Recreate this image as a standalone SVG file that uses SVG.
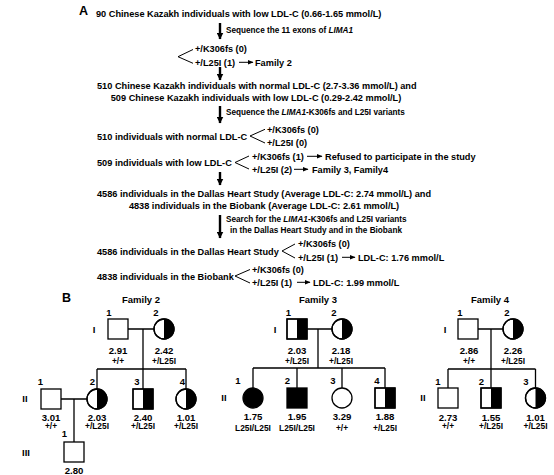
<svg xmlns="http://www.w3.org/2000/svg" width="554" height="475" viewBox="0 0 554 475">
<defs>
<marker id="ah" markerWidth="6" markerHeight="6" refX="5" refY="3" orient="auto" markerUnits="userSpaceOnUse"><path d="M0,0.8 L5.5,3 L0,5.2 Z" fill="#000"/></marker>
<marker id="dh" markerWidth="8" markerHeight="8" refX="3.5" refY="6.5" orient="0" markerUnits="userSpaceOnUse"><path d="M0,0 L7,0 L3.5,7 Z" fill="#000"/></marker>
</defs>
<style>
text{font-family:"Liberation Sans",Arial,sans-serif;font-weight:bold;fill:#000}
.m{font-size:9.2px}
.s{font-size:8.2px}
.c{text-anchor:middle}
.it{font-style:italic}
.big{font-size:12.5px}
.fam{font-size:9.5px;text-anchor:middle}
.num{font-size:9.5px;text-anchor:middle}
.val{font-size:9.6px;text-anchor:middle}
.gt{font-size:8.4px;text-anchor:middle}
.gen{font-size:9.5px;text-anchor:middle}
.dn{stroke:#000;stroke-width:2.4;fill:none}
.ra{stroke:#000;stroke-width:1;fill:none;marker-end:url(#ah)}
.br{stroke:#000;stroke-width:1;fill:none}
.pl{stroke:#000;stroke-width:1.3;fill:none}
.sym{stroke:#000;stroke-width:1.3;fill:#fff}
.blk{fill:#000}
</style>

<g id="panelA">
<text class="big" x="79" y="14.5">A</text>
<text class="m" x="96" y="16.5">90 Chinese Kazakh individuals with low LDL-C (0.66-1.65 mmol/L)</text>
<text class="s" x="226" y="33.3">Sequence the 11 exons of <tspan class="it">LIMA1</tspan></text>
<text class="m" x="195" y="51.5">+/K306fs (0)</text>
<text class="m" x="195" y="65.5">+/L25I (1)</text>
<text class="m" x="255" y="65.5">Family 2</text>
<text class="m" x="97" y="88.5">510 Chinese Kazakh individuals with normal LDL-C (2.7-3.36 mmol/L) and</text>
<text class="m c" x="256" y="100.5">509 Chinese Kazakh individuals with low LDL-C (0.29-2.42 mmol/L)</text>
<text class="s" x="226" y="115.3">Sequence the <tspan class="it">LIMA1</tspan>-K306fs and L25I variants</text>
<text class="m" x="97" y="139.5">510 individuals with normal LDL-C</text>
<text class="m" x="267" y="132.5">+/K306fs (0)</text>
<text class="m" x="267" y="145.5">+/L25I (0)</text>
<text class="m" x="97" y="165.5">509 individuals with low LDL-C</text>
<text class="m" x="252" y="159.5">+/K306fs (1)</text>
<text class="m" x="325" y="159.5">Refused to participate in the study</text>
<text class="m" x="252" y="172.5">+/L25I (2)</text>
<text class="m" x="312" y="172.5">Family 3, Family4</text>
<text class="m" x="97" y="197.3">4586 individuals in the Dallas Heart Study (Average LDL-C: 2.74 mmol/L) and</text>
<text class="m c" x="264" y="208.8">4838 individuals in the Biobank (Average LDL-C: 2.61 mmol/L)</text>
<text class="s" x="226" y="222.3">Search for the <tspan class="it">LIMA1</tspan>-K306fs and L25I variants</text>
<text class="s c" x="316" y="233.3">in the Dallas Heart Study and in the Biobank</text>
<text class="m" x="97" y="254.5">4586 individuals in the Dallas Heart Study</text>
<text class="m" x="298" y="246.5">+/K306fs (0)</text>
<text class="m" x="298" y="260.5">+/L25I (1)</text>
<text class="m" x="358" y="260.5">LDL-C: 1.76 mmol/L</text>
<text class="m" x="97" y="279.5">4838 individuals in the Biobank</text>
<text class="m" x="252" y="273.3">+/K306fs (0)</text>
<text class="m" x="252" y="285.5">+/L25I (1)</text>
<text class="m" x="313" y="285.5">LDL-C: 1.99 mmol/L</text>
</g>

<g id="connectorsA">
<path class="dn" d="M220,23 V39" marker-end="url(#dh)"/>
<path class="dn" d="M220,67 V80" marker-end="url(#dh)"/>
<path class="dn" d="M220,106 V123" marker-end="url(#dh)"/>
<path class="dn" d="M220,172 V185" marker-end="url(#dh)"/>
<path class="dn" d="M220,215 V238" marker-end="url(#dh)"/>
<polyline class="br" points="193,49.5 178,56.7 193,63.3"/>
<polyline class="br" points="265,129.3 250,136 265,143"/>
<polyline class="br" points="249,156 235,162.5 249,169"/>
<polyline class="br" points="295,244 282,251 295,258"/>
<polyline class="br" points="250,269.5 235,276 250,283"/>
<line class="ra" x1="239" y1="62.3" x2="253" y2="62.3"/>
<line class="ra" x1="307" y1="156.3" x2="322" y2="156.3"/>
<line class="ra" x1="294" y1="169.3" x2="308" y2="169.3"/>
<line class="ra" x1="342" y1="257.3" x2="355" y2="257.3"/>
<line class="ra" x1="297" y1="282.3" x2="310" y2="282.3"/>
</g>

<text class="big" x="62" y="301.5">B</text>

<g id="pedigreeLines">
<path class="pl" d="M128,329 H154 M143,329 V369 M97,369 H186 M97,369 V389 M143,369 V389 M186,369 V389 M61,399 H87 M74,399 V442"/>
<path class="pl" d="M307,329 H332 M318,329 V368 M253,368 H385 M253,368 V388 M297,368 V388 M342,368 V388 M385,368 V388"/>
<path class="pl" d="M478,329 H503 M491,329 V369 M448,369 H535.5 M448,369 V388 M491,369 V388 M535.5,369 V388"/>
</g>

<g id="family2">
<text class="fam" x="141" y="302.5">Family 2</text>
<text class="gen" x="94" y="332.5">I</text>
<text class="gen" x="25" y="401.5">II</text>
<text class="gen" x="26" y="455.5">III</text>
<g id="f2-I1"><rect class="sym" x="108" y="319" width="20" height="20"/><text class="num" x="109" y="315.5">1</text><text class="val" x="118" y="353.5">2.91</text><text class="gt" x="118" y="364">+/+</text></g>
<g id="f2-I2"><circle class="sym" cx="164" cy="329" r="10"/><path class="blk" d="M164,319 A10,10 0 0 1 164,339 Z"/><circle cx="164" cy="329" r="10" fill="none" stroke="#000" stroke-width="1.3"/><text class="num" x="156" y="315.5">2</text><text class="val" x="164" y="353.5">2.42</text><text class="gt" x="164" y="364">+/L25I</text></g>
<g id="f2-II1"><rect class="sym" x="41" y="389" width="20" height="20"/><text class="num" x="40.5" y="384.5">1</text><text class="val" x="51" y="420.5">3.01</text><text class="gt" x="51" y="429">+/+</text></g>
<g id="f2-II2"><circle class="sym" cx="97" cy="399" r="10"/><path class="blk" d="M97,389 A10,10 0 0 1 97,409 Z"/><circle cx="97" cy="399" r="10" fill="none" stroke="#000" stroke-width="1.3"/><text class="num" x="92.5" y="384.5">2</text><text class="val" x="97" y="420.5">2.03</text><text class="gt" x="97" y="429">+/L25I</text></g>
<g id="f2-II3"><rect class="sym" x="133" y="389" width="20" height="20"/><rect class="blk" x="143" y="389" width="10" height="20"/><rect x="133" y="389" width="20" height="20" fill="none" stroke="#000" stroke-width="1.3"/><text class="num" x="137" y="384.5">3</text><text class="val" x="143" y="420.5">2.40</text><text class="gt" x="143" y="429">+/L25I</text></g>
<g id="f2-II4"><circle class="sym" cx="186" cy="399" r="10"/><path class="blk" d="M186,389 A10,10 0 0 1 186,409 Z"/><circle cx="186" cy="399" r="10" fill="none" stroke="#000" stroke-width="1.3"/><text class="num" x="182.5" y="384.5">4</text><text class="val" x="186" y="420.5">1.01</text><text class="gt" x="186" y="429">+/L25I</text></g>
<g id="f2-III1"><rect class="sym" x="64" y="442" width="20" height="20"/><text class="num" x="64.5" y="436.5">1</text><text class="val" x="74" y="473.5">2.80</text></g>
</g>

<g id="family3">
<text class="fam" x="318" y="302.5">Family 3</text>
<text class="gen" x="275" y="332.5">I</text>
<text class="gen" x="224" y="401">II</text>
<g id="f3-I1"><rect class="sym" x="287" y="319" width="20" height="20"/><rect class="blk" x="297" y="319" width="10" height="20"/><rect x="287" y="319" width="20" height="20" fill="none" stroke="#000" stroke-width="1.3"/><text class="num" x="288.5" y="315.5">1</text><text class="val" x="297" y="353.5">2.03</text><text class="gt" x="297" y="364">+/L25I</text></g>
<g id="f3-I2"><circle class="sym" cx="342" cy="329" r="10"/><path class="blk" d="M342,319 A10,10 0 0 1 342,339 Z"/><circle cx="342" cy="329" r="10" fill="none" stroke="#000" stroke-width="1.3"/><text class="num" x="334" y="315.5">2</text><text class="val" x="341" y="353.5">2.18</text><text class="gt" x="341" y="364">+/L25I</text></g>
<g id="f3-II1"><circle cx="253" cy="398" r="10" fill="#000" stroke="#000" stroke-width="1.3"/><text class="num" x="238" y="383.5">1</text><text class="val" x="253" y="420">1.75</text><text class="gt" x="253" y="430.5">L25I/L25I</text></g>
<g id="f3-II2"><rect x="287" y="388" width="20" height="20" fill="#000" stroke="#000" stroke-width="1.3"/><text class="num" x="287.5" y="383.5">2</text><text class="val" x="297" y="420">1.95</text><text class="gt" x="297" y="430.5">L25I/L25I</text></g>
<g id="f3-II3"><circle class="sym" cx="342" cy="398" r="10"/><text class="num" x="333" y="383.5">3</text><text class="val" x="342" y="420">3.29</text><text class="gt" x="342" y="430.5">+/+</text></g>
<g id="f3-II4"><rect class="sym" x="375" y="388" width="20" height="20"/><rect class="blk" x="385" y="388" width="10" height="20"/><rect x="375" y="388" width="20" height="20" fill="none" stroke="#000" stroke-width="1.3"/><text class="num" x="377" y="383.5">4</text><text class="val" x="385" y="420">1.88</text><text class="gt" x="385" y="430.5">+/L25I</text></g>
</g>

<g id="family4">
<text class="fam" x="490" y="302.5">Family 4</text>
<text class="gen" x="445" y="332.5">I</text>
<text class="gen" x="423" y="401">II</text>
<g id="f4-I1"><rect class="sym" x="458" y="319" width="20" height="20"/><text class="num" x="460" y="315.5">1</text><text class="val" x="469" y="353.5">2.86</text><text class="gt" x="469" y="364">+/+</text></g>
<g id="f4-I2"><circle class="sym" cx="513" cy="329" r="10"/><path class="blk" d="M513,319 A10,10 0 0 1 513,339 Z"/><circle cx="513" cy="329" r="10" fill="none" stroke="#000" stroke-width="1.3"/><text class="num" x="507" y="315.5">2</text><text class="val" x="513" y="353.5">2.26</text><text class="gt" x="513" y="364">+/L25I</text></g>
<g id="f4-II1"><rect class="sym" x="438" y="388" width="20" height="20"/><text class="num" x="438" y="384.5">1</text><text class="val" x="448" y="420.5">2.73</text><text class="gt" x="448" y="429">+/+</text></g>
<g id="f4-II2"><rect class="sym" x="481" y="388" width="20" height="20"/><rect class="blk" x="491" y="388" width="10" height="20"/><rect x="481" y="388" width="20" height="20" fill="none" stroke="#000" stroke-width="1.3"/><text class="num" x="481.5" y="384.5">2</text><text class="val" x="491" y="420.5">1.55</text><text class="gt" x="491" y="429">+/L25I</text></g>
<g id="f4-II3"><circle class="sym" cx="535.5" cy="398" r="10"/><path class="blk" d="M535.5,388 A10,10 0 0 1 535.5,408 Z"/><circle cx="535.5" cy="398" r="10" fill="none" stroke="#000" stroke-width="1.3"/><text class="num" x="526" y="384.5">3</text><text class="val" x="535.5" y="420.5">1.01</text><text class="gt" x="535.5" y="429">+/L25I</text></g>
</g>
</svg>
